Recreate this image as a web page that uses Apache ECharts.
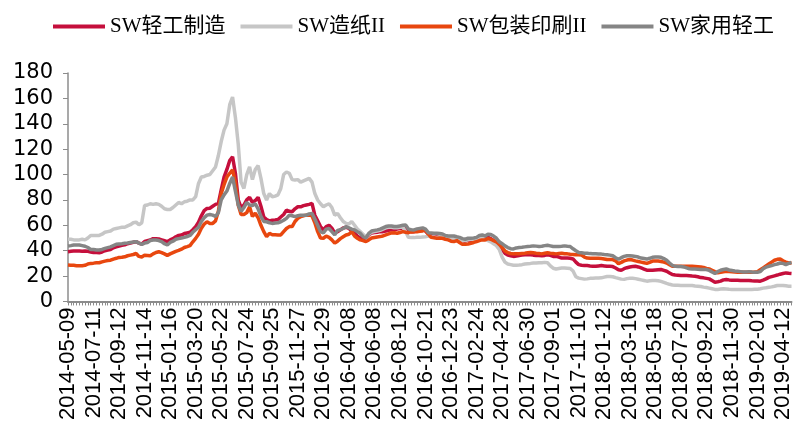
<!DOCTYPE html>
<html>
<head>
<meta charset="utf-8">
<script src="https://cdn.jsdelivr.net/npm/echarts@6/dist/echarts.min.js"></script>
<style>
  html, body { margin: 0; padding: 0; background: #fff; }
  #chart { width: 794px; height: 423px; }
</style>
</head>
<body>
<div id="chart"></div>
<script>
// Labelled dates on the x axis (every ninth weekly observation)
const tickDates = [
  '2014-05-09','2014-07-11','2014-09-12','2014-11-14','2015-01-16','2015-03-20',
  '2015-05-22','2015-07-24','2015-09-25','2015-11-27','2016-01-29','2016-04-08',
  '2016-06-08','2016-08-12','2016-10-21','2016-12-23','2017-02-24','2017-04-28',
  '2017-06-30','2017-09-01','2017-11-10','2018-01-12','2018-03-16','2018-05-18',
  '2018-07-20','2018-09-21','2018-11-30','2019-02-01','2019-04-12'
];
// Weeks with no trading, and weeks whose last trading day is not a Friday
const closedWeeks = ['2016-02-12','2016-10-07','2017-10-06','2018-10-05','2019-02-08'];
const movedDates = { '2016-06-10': '2016-06-08' };
const tailDates = ['2019-04-19','2019-04-26','2019-04-30'];

// Weekly PE (TTM) of the SW indices
const lightIndustry = [
  39.2,39.5,39.7,39.7,39.7,39.5,39.7,39.5,39,38.6,
  38.5,38.4,39,40,40.5,41,42.3,43,43.6,44.2,
  44.6,45.5,46,46.6,47.1,46,45.2,47.2,47.8,48.4,
  49.5,49.5,49.2,48.5,47.8,47.1,48.5,49.5,51,52,
  52.4,53.5,54,54.5,56.5,59,62.5,67.5,71.5,73.3,
  73.5,75,76.5,77.3,88,98,104,111,114,101,
  80,74,76,80,82,78,79.5,82,75,66.5,
  64.5,63.5,64,64.2,64.5,66.5,68.5,72,71,70.7,
  73,74.6,74.6,75.5,76,76.5,77.3,68,63.5,59,
  56.4,59,60,57.7,54,55,56.4,58,58.5,57.5,
  55.5,53.7,51.5,50,49,50.5,52.5,54,54.3,54.5,
  55,55,55.5,56,56.4,56.5,57,57.5,57.6,58.5,
  55.5,55,55,55.7,56,56.5,55.5,53,52.5,52.3,
  52.2,52,51.7,50.5,50.1,50.1,50.1,49.5,49,48,
  47.5,48.3,48.3,48.5,49,50.5,51,50.1,50.5,49.5,
  48,46,44,41,38,36.5,36,35.5,35.8,36.2,
  36.5,36.8,36.8,36.8,36.5,36.3,36.2,36,36.3,36.8,
  36.3,35.5,35.5,35,34.2,34.2,34.2,34,33.5,31,
  29,28.5,28.3,28.3,28,27.8,27.7,28,28.3,28,
  27.7,27.7,27.5,26.4,25,24.6,25.8,26.6,27.2,27.5,
  27.7,27.2,26.4,25.5,24.6,24.6,24.6,24.8,25,25.2,
  24.5,23.8,22.5,21.2,20.8,20.6,20.4,20.4,20.4,20.2,
  20,19.9,19.5,18.8,18.6,18.2,17.8,16.5,15.2,15.5,
  16,17,17.3,17,16.8,16.8,16.8,16.6,16.5,16.5,
  16.5,16.3,16.2,16.2,16,16.8,17.8,19,19.6,20.2,
  20.8,21.5,22,22.5,22.2,22
];
const paper = [
  49,49,48.5,48.5,48.5,49,48.5,50,52,52,
  52,52,53,54.5,55,55.5,57,57.5,58,58.4,
  58.5,59.6,60.5,62,62.5,60.4,62,75.6,76,77,
  76.5,77,76.5,75,73,72.5,72.5,74,76,78,
  77,78.5,79,80,80,82.6,93,98,98.5,99.5,
  100,103,106,115,126,135,140,155,161,145,
  124,94,89,100,106,96,104,107,97,85,
  80,85,82.5,83,84,89,100,102,101,96,
  95.7,96,94,95,96,97,94,85,80,77,
  74.6,76,77,74,68,69.4,66,63,61.5,61,
  63,60,57,55,53,51,53,54.5,55,55.5,
  56,57,58,58.5,58.5,58,58,58.5,58.5,55,
  50.5,50.3,50.3,50.5,50.5,50.8,51,51.5,51,50.8,
  50.5,51,51.5,50.5,50,49.8,49.5,49.5,48.5,48,
  48,48.5,49,49,49.5,50,50,49,48,47,
  45.5,44,41,35,31,29.5,29,28.5,28.5,28.7,
  29,29.5,29.8,30,30.3,30.3,30.5,30.5,30.8,30.5,
  28,26.2,25.6,26,26.4,26.4,26.2,26,24,19.5,
  18.4,18,17.6,17.8,18.2,18.3,18.4,18.4,18.6,19.2,
  19.7,19.7,19.5,18.8,18.2,17.6,17.4,18,18.2,18.3,
  18,17.5,17,16.5,16,16.3,16.5,16.5,16.3,15.8,
  15,14.2,13.5,13,12.8,12.7,12.6,12.6,12.6,12.6,
  12.5,12.2,12,11.8,11.3,11,10.5,10,9.5,9.5,
  9.8,10,9.8,9.6,9.5,9.5,9.5,9.5,9.5,9.5,
  9.5,9.5,9.6,9.7,10,10.5,10.8,11.2,11.5,12,
  12.6,12.6,12.6,12.3,12,12
];
const packaging = [
  28.7,28.5,28.5,28.2,28.2,28.2,28.5,29.5,30,30.2,
  30.5,30.5,31.2,31.8,32.2,32.5,33.4,34,34.7,34.8,
  35.2,36,36.5,37,37.8,35.5,35,36.5,36.3,36,
  37.5,38.6,39.2,38.5,37.5,36.3,37.5,38.5,39.5,40.2,
  41.2,42.5,43.2,44,47,49.7,53,57.6,61,62.8,
  61.5,61.5,63.5,71,85,92,98,101,103.6,94,
  76,68.5,68.5,70,74.6,67,69.5,66,60,55,
  51.1,53.7,52.5,52.5,52.4,52.4,55,57.5,59,59,
  63,65.5,66.8,67.5,68,68,67.5,62,55,50,
  49.8,51.5,50.5,48.5,46,47.5,49.5,51,52.4,53,
  55,51.5,49.8,48.5,48,47.2,48.5,50,50.4,50.8,
  51.1,51.6,52.5,53.2,54,54.2,53.7,54.3,55,54.5,
  54.2,54.8,55,55,55.3,55.6,56.2,53,50.5,50.2,
  49.8,50,49.8,49,48.5,47.5,47.2,48,46.5,45,
  45,45.3,45.9,46.5,47.2,48,48.5,48.5,49.5,49,
  48,47,45,42.5,39.8,38.5,37.8,37.5,37.5,37.6,
  37.8,38,38.3,38.6,38.3,38,37.8,37.5,38,38.3,
  38,37.8,37.5,37.8,38,37.6,37.5,37.2,37,36.8,
  36.8,36.5,35,34.2,34,34,34,34,33.8,33.5,
  33,33,33,32,29.8,30.8,32,32.6,33,32.6,
  32,31.5,31,30.5,30,30.8,31.8,31.8,31.8,31.5,
  31,30.3,29,27.7,27.7,27.7,27.7,27.7,27.7,27.7,
  27.7,27.6,27.4,27.2,26.8,26,25.6,24.6,23.5,22.5,
  23,23.4,23.8,23.6,23.4,23.2,23.1,23,23,23,
  23,23,23.2,23.5,25,26.5,28,29.5,31,32.5,
  33.2,33.4,32,31,30.3,30.3
];
const household = [
  43.7,44,44.5,44.5,44.5,44,43.5,42.5,41,41,
  40.5,40.5,41,41.8,42.4,43,44,45,45.3,45.5,
  45.8,46,46.5,46.8,47.1,46,45,46,46.5,48,
  48.4,48.4,48,47.1,45.5,44.5,46.5,47.5,49,49.5,
  50,50.5,51.2,52,54.5,56.5,58.5,63,66,68,
  68.5,68,67,70,80,84,87,93,98,87,
  76,71,74,78,76,75.5,77,73,67,63,
  62.8,62,61.5,61.8,62,62.8,64,65.5,68,67.5,
  66.8,67.5,68,68,68,69,69.4,65,60,55,
  54,57,57.5,55,52.5,56,56.5,57.5,59,58,
  57,56.4,55,53.7,51,50,53.7,55.5,56,56.4,
  57,58,59,59.5,59.5,59,59,59.5,60,60.2,
  57,56.5,56.4,57.2,57.6,58,57,54.2,54,53.8,
  53.7,53.5,53.2,52,51.6,51.6,51.6,51,50.5,49.5,
  49,49.8,49.8,50,50.5,52,52.4,51.6,53,52.8,
  51.5,49.8,47,45.5,43.8,42.5,41.6,41.4,42.2,42.5,
  42.7,43,43.3,43.5,43.8,43.6,43.3,43.5,44,44.3,
  43.8,43.3,43.3,43.3,43.5,43.8,43.5,43.3,41.5,40,
  38.6,38.3,38,38,37.7,37.6,37.5,37.4,37.3,37,
  36.8,36.5,36,34.5,33.2,34.5,35.5,36,36,35.8,
  35.5,35,34.2,33.8,33.4,34,34.8,35,35,34.8,
  33.8,32.5,30.3,28.5,27.7,27.6,27.5,27.2,26.5,25.8,
  25.6,25.6,25.4,25.2,25.2,25.2,24.5,23.2,22,23.5,
  24.6,25.2,25.6,24.8,24.4,24,23.8,23.5,23.2,23.3,
  23.5,23.2,23.1,23,23.5,25.8,27,27.7,28.3,29,
  29.5,30.3,30,29,30,30.8
];

const seriesNames = ['SW轻工制造', 'SW造纸II', 'SW包装印刷II', 'SW家用轻工'];
const seriesColors = ['#C50F3C', '#C6C6C6', '#E8470F', '#858585'];
const seriesValues = [lightIndustry, paper, packaging, household];

// Build the weekly date axis
function buildDates() {
  const out = [];
  const end = Date.UTC(2019, 3, 12);
  for (let t = Date.UTC(2014, 4, 9); t <= end; t += 7 * 86400000) {
    const s = new Date(t).toISOString().slice(0, 10);
    if (closedWeeks.includes(s)) continue;
    out.push(movedDates[s] || s);
  }
  return out.concat(tailDates);
}
const dates = buildDates();

const chart = echarts.init(document.getElementById('chart'), null, { renderer: 'canvas' });
const sansFont = '"Liberation Sans", Arial, sans-serif';
const wideSans = '"DejaVu Sans", "Liberation Sans", sans-serif';
const legendFont = '"Liberation Serif", "Times New Roman", "Noto Sans CJK SC", serif';

chart.setOption({
  animation: false,
  backgroundColor: '#ffffff',
  color: seriesColors,
  legend: {
    top: 11,
    left: 48,
    itemWidth: 52,
    itemHeight: 4,
    itemGap: 15,
    icon: 'rect',
    textStyle: { fontSize: 21, color: '#000', fontFamily: legendFont },
    data: seriesNames
  },
  grid: { left: 68, right: 2, top: 73, bottom: 121.5 },
  xAxis: {
    type: 'category',
    data: dates,
    boundaryGap: false,
    axisLine: { lineStyle: { color: '#8c8c8c', width: 2 } },
    axisTick: { show: true, interval: 0, length: 4, lineStyle: { color: '#8c8c8c', width: 1 } },
    axisLabel: {
      rotate: 90,
      interval: (idx, val) => tickDates.includes(val),
      fontSize: 22,
      color: '#000',
      fontFamily: sansFont,
      margin: 6
    },
    splitLine: { show: false }
  },
  yAxis: {
    type: 'value',
    min: 0,
    max: 180,
    interval: 20,
    axisLine: { show: true, lineStyle: { color: '#8c8c8c', width: 1.5 } },
    axisTick: { show: true, length: 5, lineStyle: { color: '#8c8c8c' } },
    axisLabel: { fontSize: 21, color: '#000', fontFamily: wideSans, margin: 15 },
    splitLine: { show: false }
  },
  series: seriesNames.map((name, k) => ({
    name: name,
    type: 'line',
    data: seriesValues[k],
    showSymbol: false,
    symbol: 'none',
    lineStyle: { width: 3.5, color: seriesColors[k] },
    itemStyle: { color: seriesColors[k] },
    z: 2 + k
  }))
});
</script>
</body>
</html>
